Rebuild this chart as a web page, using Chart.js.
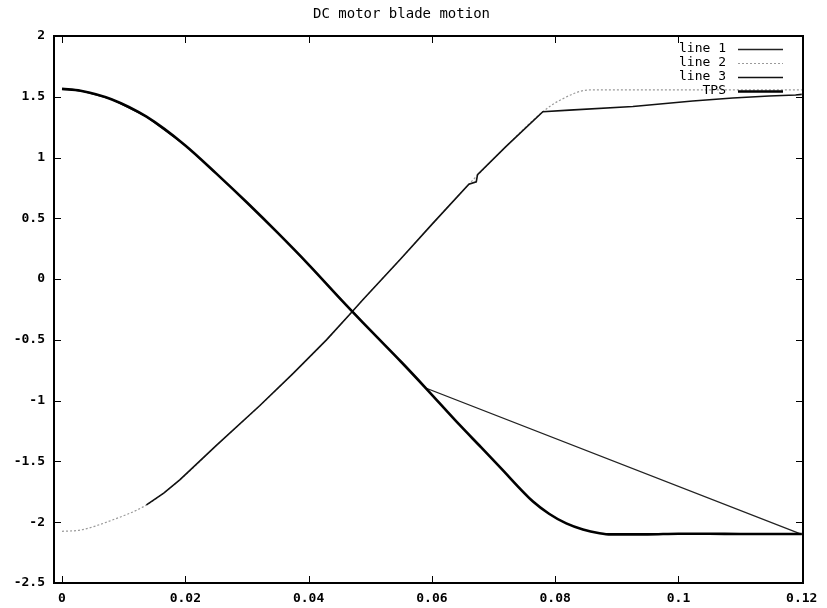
<!DOCTYPE html>
<html>
<head>
<meta charset="utf-8">
<title>DC motor blade motion</title>
<script src="https://cdn.jsdelivr.net/npm/chart.js@4"></script>
<style>
  body { margin: 0; background: #fff; }
</style>
</head>
<body>
<canvas id="bladeChart" width="827" height="608"></canvas>
<script>
// --------------------
// Values
// --------------------
const xTicks = [0, 0.02, 0.04, 0.06, 0.08, 0.1, 0.12];
const yTicks = [2, 1.5, 1, 0.5, 0, -0.5, -1, -1.5, -2, -2.5];

// line 1: follows the descent, then runs straight to the end point
const line1X = [0, 0.003, 0.008, 0.0137, 0.02, 0.025, 0.03, 0.035, 0.04, 0.0453, 0.05, 0.055, 0.059, 0.12];
const line1Y = [1.565, 1.55, 1.48, 1.336, 1.10, 0.87, 0.63, 0.38, 0.12, -0.17, -0.42, -0.68, -0.896, -2.10];

// line 2: rising curve that levels off at the top
const line2X = [0, 0.003, 0.008, 0.0137, 0.0191, 0.025, 0.0321, 0.0375, 0.0429, 0.04695, 0.0488, 0.055, 0.06, 0.066, 0.072, 0.078, 0.0807, 0.0856, 0.09, 0.1, 0.11, 0.12];
const line2Y = [-2.075, -2.064, -1.985, -1.858, -1.652, -1.37, -1.04, -0.775, -0.50, -0.275, -0.17, 0.17, 0.45, 0.78, 1.09, 1.377, 1.47, 1.556, 1.556, 1.556, 1.556, 1.556];

// line 3: rising line with the small step, then a slow climb
const line3X = [0.0137, 0.0165, 0.0191, 0.025, 0.0321, 0.0375, 0.0429, 0.04695, 0.0488, 0.055, 0.06, 0.066, 0.0672, 0.0674, 0.072, 0.078, 0.0823, 0.0926, 0.1023, 0.1088, 0.1147, 0.119, 0.12];
const line3Y = [-1.858, -1.76, -1.652, -1.37, -1.04, -0.775, -0.50, -0.275, -0.17, 0.17, 0.45, 0.78, 0.80, 0.86, 1.09, 1.377, 1.39, 1.42, 1.465, 1.49, 1.506, 1.515, 1.52];

// TPS: full falling curve
const tpsX = [0, 0.003, 0.008, 0.0137, 0.02, 0.025, 0.03, 0.035, 0.04, 0.0453, 0.05, 0.055, 0.059, 0.0645, 0.068, 0.071, 0.0764, 0.079, 0.0818, 0.0845, 0.0872, 0.089, 0.095, 0.1, 0.105, 0.11, 0.12];
const tpsY = [1.565, 1.55, 1.48, 1.336, 1.10, 0.87, 0.63, 0.38, 0.12, -0.17, -0.42, -0.68, -0.896, -1.20, -1.385, -1.545, -1.83, -1.93, -2.01, -2.06, -2.09, -2.10, -2.10, -2.095, -2.095, -2.097, -2.097];

const mono = "'DejaVu Sans Mono', 'Liberation Mono', monospace";

function toPoints(xs, ys) {
    return xs.map((x, i) => ({ x: x, y: ys[i] }));
}

// box, inward ticks on all sides, legend inside top right
const frameAndLegend = {
    id: 'frameAndLegend',
    afterDatasetsDraw(chart) {
        const { ctx, chartArea: a, scales } = chart;
        const x = scales.x, y = scales.y;
        ctx.save();

        ctx.strokeStyle = '#000';
        ctx.lineWidth = 1;
        ctx.beginPath();
        xTicks.forEach(v => {
            const px = Math.round(x.getPixelForValue(v)) + 0.5;
            ctx.moveTo(px, a.bottom); ctx.lineTo(px, a.bottom - 7);
            ctx.moveTo(px, a.top); ctx.lineTo(px, a.top + 7);
        });
        yTicks.forEach(v => {
            const py = Math.round(y.getPixelForValue(v)) + 0.5;
            ctx.moveTo(a.left, py); ctx.lineTo(a.left + 7, py);
            ctx.moveTo(a.right, py); ctx.lineTo(a.right - 7, py);
        });
        ctx.stroke();

        ctx.lineWidth = 2;
        ctx.strokeRect(a.left, a.top, a.right - a.left, a.bottom - a.top);

        // legend
        ctx.font = '13px ' + mono;
        ctx.fillStyle = '#000';
        ctx.textAlign = 'right';
        ctx.textBaseline = 'middle';
        chart.data.datasets.forEach((ds, i) => {
            const rowY = 49 + i * 14;
            ctx.fillText(ds.label, 726, rowY);
            ctx.strokeStyle = ds.borderColor;
            ctx.lineWidth = ds.borderWidth;
            ctx.setLineDash(ds.borderDash || []);
            ctx.beginPath();
            ctx.moveTo(738, rowY + 0.5);
            ctx.lineTo(783, rowY + 0.5);
            ctx.stroke();
            ctx.setLineDash([]);
        });

        ctx.restore();
    }
};

const ctx = document.getElementById('bladeChart');

new Chart(ctx, {
    type: 'line',
    data: {
        datasets: [
            {
                label: 'line 1',
                data: toPoints(line1X, line1Y),
                borderColor: '#222',
                borderWidth: 1.3,
                tension: 0,
                order: 2
            },
            {
                label: 'line 2',
                data: toPoints(line2X, line2Y),
                borderColor: '#9a9a9a',
                borderWidth: 1.2,
                borderDash: [2, 2],
                cubicInterpolationMode: 'monotone',
                order: 4
            },
            {
                label: 'line 3',
                data: toPoints(line3X, line3Y),
                borderColor: '#111',
                borderWidth: 1.6,
                tension: 0,
                order: 3
            },
            {
                label: 'TPS',
                data: toPoints(tpsX, tpsY),
                borderColor: '#000',
                borderWidth: 2.6,
                cubicInterpolationMode: 'monotone',
                order: 1
            }
        ]
    },
    options: {
        responsive: false,
        animation: false,
        events: [],
        elements: {
            point: { radius: 0 }
        },
        layout: {
            padding: { left: 0, right: 24, top: 0, bottom: 0 }
        },
        plugins: {
            legend: { display: false },
            tooltip: { enabled: false },
            title: {
                display: true,
                text: 'DC motor blade motion',
                color: '#000',
                font: { family: mono, size: 14, weight: 'normal' },
                padding: { top: 6, bottom: 13.2 }
            }
        },
        scales: {
            x: {
                type: 'linear',
                min: -0.0013,
                max: 0.1202,
                grid: { display: false, drawTicks: false },
                border: { display: false },
                afterBuildTicks: scale => {
                    scale.ticks = xTicks.map(v => ({ value: v }));
                },
                afterFit: scale => { scale.height = 25; },
                ticks: {
                    autoSkip: false,
                    maxRotation: 0,
                    padding: 8,
                    color: '#000',
                    font: { family: mono, size: 13, weight: 'bold' },
                    callback: value => String(value)
                }
            },
            y: {
                type: 'linear',
                min: -2.5,
                max: 2,
                grid: { display: false, drawTicks: false },
                border: { display: false },
                afterBuildTicks: scale => {
                    scale.ticks = yTicks.map(v => ({ value: v }));
                },
                afterFit: scale => { scale.width = 54; },
                ticks: {
                    autoSkip: false,
                    padding: 9,
                    color: '#000',
                    font: { family: mono, size: 13, weight: 'bold' },
                    callback: value => String(value)
                }
            }
        }
    },
    plugins: [frameAndLegend]
});
</script>
</body>
</html>
